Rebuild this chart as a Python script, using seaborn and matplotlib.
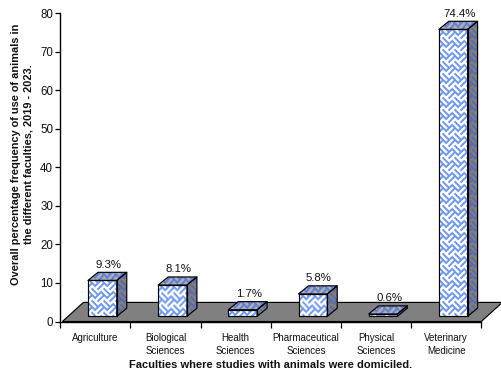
import numpy as np
import pandas as pd
import matplotlib
matplotlib.use("Agg")
import matplotlib.pyplot as plt
from matplotlib.patches import Polygon
import seaborn as sns

faculties = ["Agriculture", "Biological\nSciences", "Health\nSciences",
             "Pharmaceutical\nSciences", "Physical\nSciences", "Veterinary\nMedicine"]
frequency = [9.3, 8.1, 1.7, 5.8, 0.6, 74.4]
value_ticks = [0, 10, 20, 30, 40, 50, 60, 70, 80]

ylabel = "Overall percentage frequency of use of animals in\nthe different faculties, 2019 - 2023."
xlabel = "Faculties where studies with animals were domiciled."

sns.set_style("white")
plt.rcParams["font.family"] = ["Liberation Sans", "DejaVu Sans"]

W, H = 502, 374
fig = plt.figure(figsize=(W / 100, H / 100), dpi=100)
ax = fig.add_axes([60.3 / W, 1 - 321.5 / H, 421 / W, 308.5 / H])

# 3D box geometry, in axis units
BAR_WIDTH = 0.41
BAR_SHIFT = 0.10
DEPTH_X = 0.142
DEPTH_Y = 2.1
LIFT = 1.35
FLOOR_DEPTH_X = 0.30
FLOOR_DEPTH_Y = 4.95


def weave(nx, ny, base, line, ss=3, block=12.0, lw=2.6):
    """Diagonal basket-weave fill as an RGB array, supersampled then averaged."""
    xs = (np.arange(nx * ss) + 0.5) / ss
    ys = (np.arange(ny * ss) + 0.5) / ss
    x, y = np.meshgrid(xs, ys)
    u, v = x + y, x - y
    checker = (np.floor(u / block) + np.floor(v / block)) % 2 == 0
    coord = np.where(checker, v, u) % (block / 2)
    mask = coord < lw
    rgb = np.where(mask[..., None], np.array(line), np.array(base)).astype(float)
    rgb = rgb.reshape(ny, ss, nx, ss, 3).mean(axis=(1, 3))
    return rgb / 255


def fill_face(corners, base, line):
    poly = Polygon(corners, closed=True, facecolor="none", edgecolor="black",
                   linewidth=0.85, zorder=4, clip_on=False, joinstyle="round")
    ax.add_patch(poly)
    pts = np.array(corners)
    x0, x1 = pts[:, 0].min(), pts[:, 0].max()
    y0, y1 = pts[:, 1].min(), pts[:, 1].max()
    nx = max(int(round((x1 - x0) * 70.2)), 1)
    ny = max(int(round((y1 - y0) * 3.856)), 1)
    img = ax.imshow(weave(nx, ny, base, line), extent=(x0, x1, y0, y1), aspect="auto",
                    origin="upper", zorder=3, interpolation="bilinear")
    img.set_clip_path(Polygon(corners, closed=True, transform=ax.transData))


data = pd.DataFrame({"faculty": faculties, "frequency": frequency})
sns.barplot(data=data, x="faculty", y="frequency", ax=ax, width=BAR_WIDTH,
            bottom=LIFT, color="white", saturation=1, edgecolor="none",
            errorbar=None, zorder=2)

# Ground plane under the boxes
floor = Polygon([(-0.47, 0), (5.5, 0), (5.5 + FLOOR_DEPTH_X, FLOOR_DEPTH_Y),
                 (-0.47 + FLOOR_DEPTH_X, FLOOR_DEPTH_Y)],
                closed=True, facecolor="#808080", edgecolor="black",
                linewidth=0.85, zorder=1, clip_on=False)
ax.add_patch(floor)

for pos, (bar, val) in enumerate(zip(ax.patches[:len(frequency)], frequency)):
    bar.set_x(bar.get_x() + BAR_SHIFT)
    left, right = bar.get_x(), bar.get_x() + bar.get_width()
    low, high = LIFT, LIFT + val
    fill_face([(left, low), (right, low), (right, high), (left, high)],
              (255, 255, 255), (105, 150, 245))
    fill_face([(right, low), (right + DEPTH_X, low + DEPTH_Y),
               (right + DEPTH_X, high + DEPTH_Y), (right, high)],
              (128, 128, 128), (85, 105, 175))
    fill_face([(left, high), (right, high), (right + DEPTH_X, high + DEPTH_Y),
               (left + DEPTH_X, high + DEPTH_Y)],
              (178, 178, 178), (90, 125, 215))
    ax.text((left + right) / 2 + 0.085, high + DEPTH_Y + 0.7, f"{val}%",
            ha="center", va="bottom", fontsize=8.2, color="#111111", zorder=5)

ax.set_xlim(-0.5, 5.5)
ax.set_ylim(0, 80)
ax.set_yticks(value_ticks)
ax.set_yticklabels([str(t) for t in value_ticks], fontsize=8.3, color="#111111")

# Ticks mark the category boundaries; names sit between them
ax.set_xticks(np.arange(-0.5, 6.0, 1))
ax.set_xticklabels([])
ax.set_xticks(np.arange(6), labels=faculties, minor=True, fontsize=7.0, color="#111111",
              linespacing=1.4)
ax.tick_params(axis="x", which="major", direction="out", bottom=True, length=4.5,
               width=0.9, color="black")
ax.tick_params(axis="x", which="minor", bottom=False, pad=6.3)
ax.tick_params(axis="y", left=True, direction="out", length=3.6, width=0.9,
               color="black", pad=1.5)
ax.set_xlabel("")
ax.set_ylabel("")

for side in ("top", "right"):
    ax.spines[side].set_visible(False)
for side in ("left", "bottom"):
    ax.spines[side].set_linewidth(1.0)
    ax.spines[side].set_color("black")
    ax.spines[side].set_zorder(6)

fig.text(271 / W, 1 - 365 / H, xlabel, ha="center", va="center",
         fontsize=8.0, fontweight="bold", color="#111111")
fig.text(22 / W, 1 - 154.5 / H, ylabel, ha="center", va="center", rotation=90,
         multialignment="center", fontsize=7.95, fontweight="bold", color="#111111",
         linespacing=1.3)

fig.savefig("out.png", dpi=100, facecolor="white")
